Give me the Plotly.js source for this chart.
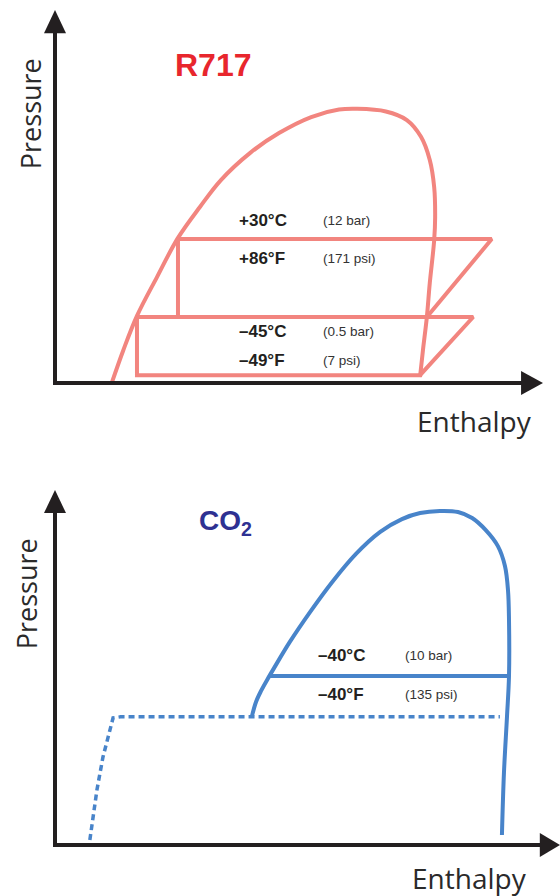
<!DOCTYPE html>
<html>
<head>
<meta charset="utf-8">
<script src="https://cdn.plot.ly/plotly-3.0.1.min.js"></script>
<style>
  html, body { margin: 0; padding: 0; background: #ffffff; }
  #chart { width: 560px; height: 896px; }
</style>
</head>
<body>
<div id="chart"></div>
<script>
// ---------------- DATA (schematic pressure–enthalpy diagrams, arbitrary units 0–100) ----------------
// R717 (ammonia) saturation dome
const r717DomeH = [11.7, 14.0, 16.8, 20.9, 25.2, 29.7, 34.0, 40.0, 45.9, 52.5, 58.2, 61.9, 67.8, 72.1, 75.0, 76.8, 77.7, 77.9, 77.7, 76.8, 76.2, 75.4, 74.8];
const r717DomeP = [0.3, 8.8, 18.0, 28.4, 38.9, 47.2, 54.4, 61.7, 67.0, 71.3, 73.3, 73.5, 72.8, 70.5, 66.0, 59.8, 52.5, 44.5, 38.3, 26.8, 17.7, 8.8, 1.6];
// R717 two-stage cycle
const r717HighH = [25.2, 25.2, 89.5, 76.2];
const r717HighP = [17.7, 38.6, 38.6, 17.7];
const r717LowH = [16.8, 85.7, 74.8, 16.8, 16.8];
const r717LowP = [17.7, 17.7, 2.1, 2.1, 17.7];
const r717Temps = ['+30°C', '+86°F', '–45°C', '–49°F'];
const r717Press = ['(12 bar)', '(171 psi)', '(0.5 bar)', '(7 psi)'];
const r717LabelP = [43.6, 33.5, 13.7, 5.9];

// CO2 saturation dome
const co2DomeH = [39.0, 39.8, 40.8, 42.0, 43.4, 46.5, 50.5, 54.9, 59.6, 64.4, 68.7, 72.3, 76.2, 79.8, 82.6, 85.3, 87.7, 89.1, 89.7, 89.9, 89.9, 89.5, 88.9, 88.5];
const co2DomeP = [36.3, 40.3, 43.4, 46.5, 49.9, 57.2, 65.6, 74.1, 82.0, 88.2, 91.8, 93.5, 94.1, 93.8, 92.1, 88.7, 84.2, 78.6, 71.8, 63.4, 47.6, 36.1, 20.3, 2.8];
// CO2 evaporating line and triple-point (dashed) boundary
const co2EvapH = [42.4, 89.9];
const co2EvapP = [47.6, 47.6];
const co2DashH = [6.9, 8.3, 9.5, 10.9, 11.5, 13.0, 88.1];
const co2DashP = [1.4, 15.5, 24.8, 33.2, 35.8, 36.1, 36.1];
const co2Temps = ['–40°C', '–40°F'];
const co2Press = ['(10 bar)', '(135 psi)'];
const co2LabelP = [53.5, 42.3];

// ---------------- LAYOUT GEOMETRY ----------------
const W = 560, H = 896;
// pixel calibration: origin of each diagram and pixels per unit
const calTop = { ox: 55, oy: 383, sx: 4.88, sy: 3.73, y0: 0, y1: 448 };
const calBot = { ox: 55, oy: 845, sx: 5.05, sy: 3.55, y0: 448, y1: 896 };
function xr(c) { return [(0 - c.ox) / c.sx, (W - c.ox) / c.sx]; }
function yr(c) { return [(c.oy - c.y1) / c.sy, (c.oy - c.y0) / c.sy]; }

const pink = '#f2857f';
const blue = '#4884ca';
const ink = '#231f20';

const traces = [
  { x: r717DomeH, y: r717DomeP, xaxis: 'x', yaxis: 'y', mode: 'lines',
    line: { color: pink, width: 4, shape: 'spline', smoothing: 1 }, hoverinfo: 'skip' },
  { x: r717HighH, y: r717HighP, xaxis: 'x', yaxis: 'y', mode: 'lines',
    line: { color: pink, width: 4 }, hoverinfo: 'skip' },
  { x: r717LowH, y: r717LowP, xaxis: 'x', yaxis: 'y', mode: 'lines',
    line: { color: pink, width: 4 }, hoverinfo: 'skip' },
  { x: co2DomeH, y: co2DomeP, xaxis: 'x2', yaxis: 'y2', mode: 'lines',
    line: { color: blue, width: 4, shape: 'spline', smoothing: 1 }, hoverinfo: 'skip' },
  { x: co2EvapH, y: co2EvapP, xaxis: 'x2', yaxis: 'y2', mode: 'lines',
    line: { color: blue, width: 4 }, hoverinfo: 'skip' },
  { x: co2DashH, y: co2DashP, xaxis: 'x2', yaxis: 'y2', mode: 'lines',
    line: { color: blue, width: 3.5, dash: '6px,4px' }, hoverinfo: 'skip' }
];

function axisShapes(xa, ya, c, yBase, xBase, hw, hh) {
  return [
    { type: 'path', xref: xa, yref: ya, path: `M0,${yBase + 1} L0,0 L${xBase + 1},0`,
      line: { color: ink, width: 4 }, fillcolor: 'rgba(0,0,0,0)', layer: 'above' },
    { type: 'path', xref: xa, yref: ya,
      path: `M0,100 L${-hw / c.sx},${yBase} L${hw / c.sx},${yBase} Z`,
      line: { color: ink, width: 0 }, fillcolor: ink, layer: 'above' },
    { type: 'path', xref: xa, yref: ya,
      path: `M100,0 L${xBase},${-hh / c.sy} L${xBase},${hh / c.sy} Z`,
      line: { color: ink, width: 0 }, fillcolor: ink, layer: 'above' }
  ];
}

const shapes = [].concat(
  axisShapes('x', 'y', calTop, 93.8, 95.5, 11, 12),
  axisShapes('x2', 'y2', calBot, 93.5, 96.0, 11, 12)
);

const annotations = [];
const boldFont = (size) => ({ family: 'Liberation Sans, Arial, sans-serif', size: size, color: ink });
r717Temps.forEach((t, i) => {
  annotations.push({ xref: 'x', yref: 'y', x: 37.3, y: r717LabelP[i], text: '<b>' + t + '</b>',
    showarrow: false, xanchor: 'left', yanchor: 'middle', font: boldFont(17) });
  annotations.push({ xref: 'x', yref: 'y', x: 54.6, y: r717LabelP[i], text: r717Press[i],
    showarrow: false, xanchor: 'left', yanchor: 'middle',
    font: { family: 'Liberation Sans, Arial, sans-serif', size: 13.5, color: '#333333' } });
});
co2Temps.forEach((t, i) => {
  annotations.push({ xref: 'x2', yref: 'y2', x: 51.7, y: co2LabelP[i], text: '<b>' + t + '</b>',
    showarrow: false, xanchor: 'left', yanchor: 'middle', font: boldFont(17) });
  annotations.push({ xref: 'x2', yref: 'y2', x: 69.0, y: co2LabelP[i], text: co2Press[i],
    showarrow: false, xanchor: 'left', yanchor: 'middle',
    font: { family: 'Liberation Sans, Arial, sans-serif', size: 13.5, color: '#333333' } });
});
// diagram titles
annotations.push({ xref: 'x', yref: 'y', x: 32.4, y: 85.3, text: '<b>R717</b>', showarrow: false,
  xanchor: 'center', yanchor: 'middle',
  font: { family: 'Liberation Sans, Arial, sans-serif', size: 32, color: '#e8262d' } });
annotations.push({ xref: 'x2', yref: 'y2', x: 33.7, y: 90.8, text: '<b>CO<sub>2</sub></b>', showarrow: false,
  xanchor: 'center', yanchor: 'middle',
  font: { family: 'Liberation Sans, Arial, sans-serif', size: 28, color: '#2e3192' } });
// axis titles
const axFont = { family: 'Open Sans, sans-serif', size: 27, color: '#2a2a2a' };
annotations.push({ xref: 'x', yref: 'y', x: -5.1, y: 72.1, text: 'Pressure', textangle: -90,
  showarrow: false, xanchor: 'center', yanchor: 'middle', font: axFont });
annotations.push({ xref: 'x', yref: 'y', x: 85.9, y: -10.3, text: 'Enthalpy',
  showarrow: false, xanchor: 'center', yanchor: 'middle', font: Object.assign({}, axFont, { size: 28 }) });
annotations.push({ xref: 'x2', yref: 'y2', x: -5.7, y: 70.7, text: 'Pressure', textangle: -90,
  showarrow: false, xanchor: 'center', yanchor: 'middle', font: axFont });
annotations.push({ xref: 'x2', yref: 'y2', x: 82.0, y: -9.3, text: 'Enthalpy',
  showarrow: false, xanchor: 'center', yanchor: 'middle', font: Object.assign({}, axFont, { size: 28 }) });

const hidden = { visible: false, showgrid: false, zeroline: false, fixedrange: true };
const layout = {
  width: W, height: H,
  margin: { l: 0, r: 0, t: 0, b: 0, pad: 0 },
  paper_bgcolor: '#ffffff', plot_bgcolor: 'rgba(0,0,0,0)',
  showlegend: false,
  xaxis: Object.assign({}, hidden, { domain: [0, 1], range: xr(calTop), anchor: 'y' }),
  yaxis: Object.assign({}, hidden, { domain: [1 - calTop.y1 / H, 1 - calTop.y0 / H], range: yr(calTop), anchor: 'x' }),
  xaxis2: Object.assign({}, hidden, { domain: [0, 1], range: xr(calBot), anchor: 'y2' }),
  yaxis2: Object.assign({}, hidden, { domain: [1 - calBot.y1 / H, 1 - calBot.y0 / H], range: yr(calBot), anchor: 'x2' }),
  shapes: shapes,
  annotations: annotations
};

Plotly.newPlot('chart', traces, layout, { staticPlot: true, displayModeBar: false });
</script>
</body>
</html>
